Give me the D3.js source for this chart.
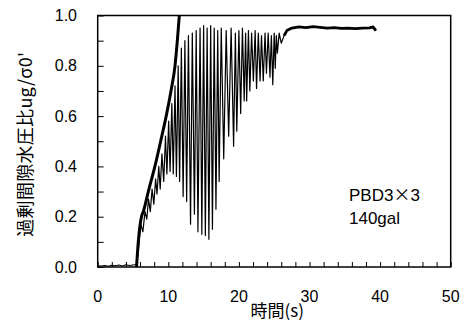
<!DOCTYPE html>
<html><head><meta charset="utf-8">
<script src="https://cdn.jsdelivr.net/npm/d3@7"></script>
<style>
html,body{margin:0;padding:0;background:#fff;}
svg{display:block;}
text{font-family:"Liberation Sans",Arial,sans-serif;fill:#000;}
.cjk{font-family:"Noto Sans CJK JP","Liberation Sans",sans-serif;}
</style></head>
<body>
<script>
// x-axis ticks (s) and y-axis ticks (ratio)
const xTickLabels = [0, 10, 20, 30, 40, 50];
const yTickLabels = [0.0, 0.2, 0.4, 0.6, 0.8, 1.0];
const xLabel = "時間(s)";
const yLabel = "過剰間隙水圧比ug/σ0'";
const noteLines = ["PBD3×3", "140gal"];

// Thick curve (theory) : time, ratio
const theoryT = [5.5, 5.75, 6.2, 6.46, 7.17, 8.1, 8.92, 9.7, 10.38, 10.95, 11.28, 11.56, 11.75];
const theoryR = [0.0, 0.10, 0.20, 0.22, 0.30, 0.40, 0.50, 0.60, 0.70, 0.80, 0.90, 1.00, 1.06];

// Measured excess pore-water pressure ratio : time, ratio
const measT = [0, 0.5, 1, 1.5, 2, 2.5, 3, 3.5, 4, 4.5, 5, 5.5, 5.7,
  6.1, 6.4, 6.7, 6.95, 7.2, 7.45, 7.7, 7.95, 8.2, 8.4, 8.65, 8.85, 9.1, 9.35, 9.6, 9.8,
  10.05, 10.25, 10.5, 10.7, 10.95, 11.15, 11.4, 11.6, 11.85, 12.1, 12.35, 12.6, 12.85, 13.15,
  13.4, 13.7, 13.95, 14.2, 14.5, 14.75, 15.0, 15.25, 15.5, 15.75, 16.0, 16.25, 16.5, 16.75,
  17.0, 17.2, 17.5, 17.85, 18.2, 18.55, 18.9, 19.25, 19.5, 19.7, 20.0, 20.25, 20.5, 20.75,
  20.95, 21.1, 21.35, 21.55, 21.8, 22.05, 22.3, 22.5, 22.75, 23.0, 23.2, 23.45, 23.7, 23.9,
  24.15, 24.4, 24.6, 24.8, 25.0, 25.15, 25.3, 25.45, 25.7, 26.0, 26.4, 26.8, 27.5, 28.5,
  29.5, 30.5, 31.5, 32.5, 33.5, 34.5, 35.5, 36.5, 37.5, 38.5, 39.0, 39.4];
const measR = [0.005, 0.004, 0.006, 0.003, 0.007, 0.005, 0.008, 0.004, 0.009, 0.006, 0.008, 0.01, 0.05,
  0.17, 0.14, 0.22, 0.19, 0.27, 0.22, 0.31, 0.25, 0.35, 0.29, 0.40, 0.31, 0.45, 0.34, 0.52, 0.37,
  0.58, 0.38, 0.65, 0.37, 0.72, 0.36, 0.80, 0.34, 0.87, 0.28, 0.90, 0.26, 0.92, 0.17,
  0.93, 0.21, 0.94, 0.14, 0.95, 0.13, 0.96, 0.125, 0.95, 0.11, 0.96, 0.15, 0.95, 0.23,
  0.94, 0.34, 0.95, 0.43, 0.94, 0.52, 0.95, 0.48, 0.93, 0.54, 0.94, 0.61, 0.95, 0.66,
  0.93, 0.66, 0.94, 0.70, 0.93, 0.74, 0.94, 0.71, 0.93, 0.74, 0.92, 0.74, 0.93, 0.77,
  0.93, 0.755, 0.92, 0.725, 0.93, 0.79, 0.92, 0.85, 0.93, 0.89, 0.92, 0.94, 0.95, 0.955,
  0.952, 0.956, 0.953, 0.95, 0.952, 0.949, 0.95, 0.948, 0.95, 0.951, 0.955, 0.94];

const W = 468, H = 322;
const M = {left: 97.7, right: 450.7, top: 15.5, bottom: 267};

const svg = d3.select("body").append("svg").attr("width", W).attr("height", H);

const x = d3.scaleLinear().domain([0, 50]).range([M.left, M.right]);
const y = d3.scaleLinear().domain([0, 1]).range([M.bottom, M.top]);

svg.append("defs").append("clipPath").attr("id", "clip")
  .append("rect").attr("x", M.left).attr("y", M.top)
  .attr("width", M.right - M.left).attr("height", M.bottom - M.top);

// Axes with inside ticks
const xAxis = d3.axisBottom(x).tickValues(d3.range(0, 50.01, 2)).tickSize(-5).tickFormat("");
const yAxis = d3.axisLeft(y).tickValues(d3.range(0, 1.001, 0.1)).tickSize(-6).tickFormat("");

const gx = svg.append("g").attr("transform", `translate(0,${M.bottom})`).call(xAxis);
const gy = svg.append("g").attr("transform", `translate(${M.left},0)`).call(yAxis);
[gx, gy].forEach(g => {
  g.select(".domain").remove();
  g.selectAll(".tick line").attr("stroke", "#000").attr("stroke-width", 1);
});

// Tick labels
svg.append("g").selectAll("text").data(xTickLabels).join("text")
  .attr("x", d => x(d)).attr("y", 302)
  .attr("text-anchor", "middle").attr("font-size", 16)
  .text(d => d);
svg.append("g").selectAll("text").data(yTickLabels).join("text")
  .attr("x", 77).attr("y", d => y(d) + 5.5)
  .attr("text-anchor", "end").attr("font-size", 16)
  .text(d => d.toFixed(1));

// Lines
const lineGen = d3.line().x(d => x(d[0])).y(d => y(d[1]));
const measData = measT.map((t, i) => [t, measR[i]]);
const theoryData = theoryT.map((t, i) => [t, theoryR[i]]);

const plot = svg.append("g").attr("clip-path", "url(#clip)");
plot.append("path").datum(measData).attr("d", lineGen)
  .attr("fill", "none").attr("stroke", "#000").attr("stroke-width", 1.2)
  .attr("stroke-linejoin", "round");
// dense noisy plateau appears as a thick band
plot.append("path").datum(measData.filter(d => d[0] >= 26.4)).attr("d", lineGen)
  .attr("fill", "none").attr("stroke", "#000").attr("stroke-width", 2.8)
  .attr("stroke-linejoin", "round");
plot.append("path").datum(theoryData).attr("d", d3.line().x(d => x(d[0])).y(d => y(d[1])).curve(d3.curveMonotoneX))
  .attr("fill", "none").attr("stroke", "#000").attr("stroke-width", 3);

// Frame
svg.append("rect").attr("x", M.left).attr("y", M.top)
  .attr("width", M.right - M.left).attr("height", M.bottom - M.top)
  .attr("fill", "none").attr("stroke", "#000").attr("stroke-width", 1.5);

// Axis titles
svg.append("text").attr("class", "cjk")
  .attr("x", (M.left + M.right) / 2 + 3).attr("y", 317)
  .attr("text-anchor", "middle").attr("font-size", 17)
  .text(xLabel);
svg.append("text").attr("class", "cjk")
  .attr("transform", `translate(32,${(M.top + M.bottom) / 2 + 3}) rotate(-90)`)
  .attr("text-anchor", "middle").attr("font-size", 18)
  .attr("letter-spacing", 0.3)
  .text(yLabel);

// Annotation (the × sign is set in a full-width CJK face, as in the original)
const notes = svg.append("g").selectAll("text").data(noteLines).join("text")
  .attr("x", 349).attr("y", (d, i) => 201 + i * 23)
  .attr("font-size", 17);
notes.each(function(d) {
  const parts = d.split("×");
  const el = d3.select(this);
  parts.forEach((p, i) => {
    if (i > 0) el.append("tspan").attr("class", "cjk").text("×");
    el.append("tspan").text(p);
  });
});
</script>
</body></html>
